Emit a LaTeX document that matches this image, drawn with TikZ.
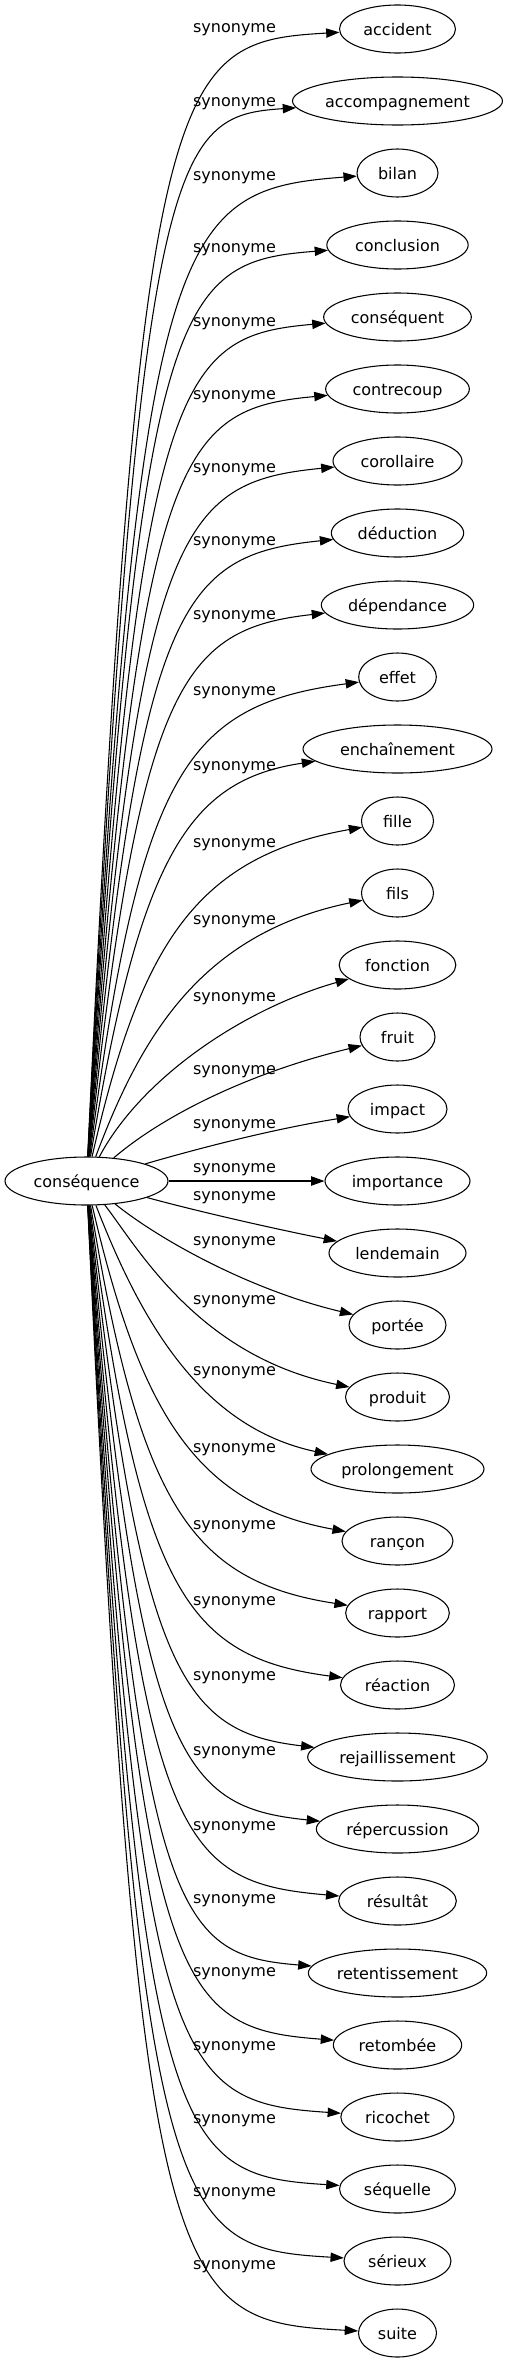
\documentclass[tikz,border=0pt]{standalone}
\usepackage{fontspec}
\setmainfont{DejaVu Sans}
\usetikzlibrary{shapes.geometric, arrows.meta}

\begin{document}
\begin{tikzpicture}[x=0.75pt, y=-0.75pt,
    word/.style={ellipse, draw, line width=0.8pt, inner sep=0pt, minimum height=36pt, minimum width=#1, text height=9pt, text depth=0pt, font=\fontsize{12}{14}\selectfont},
    lbl/.style={inner sep=0pt, font=\fontsize{12}{14}\selectfont},
    syn/.style={-{Triangle[length=10pt, width=7pt]}, line width=0.8pt},
]
\useasboundingbox (0,0) rectangle (508,2363);

% source
\node[word=122.25pt] (cons) at (86.5,1181) {conséquence};

% synonyms
\node[word=87pt]     (accident)        at (397.5,29)   {accident};
\node[word=157.5pt]  (accompagnement)  at (397.5,101)  {accompagnement};
\node[word=60.75pt]  (bilan)           at (397.5,173)  {bilan};
\node[word=106pt]    (conclusion)      at (397.5,245)  {conclusion};
\node[word=110.75pt] (consequent)      at (397.5,317)  {conséquent};
\node[word=107.75pt] (contrecoup)      at (397.5,389)  {contrecoup};
\node[word=96.75pt]  (corollaire)      at (397.5,461)  {corollaire};
\node[word=99.25pt]  (deduction)       at (397.5,533)  {déduction};
\node[word=114.25pt] (dependance)      at (397.5,605)  {dépendance};
\node[word=58.25pt]  (effet)           at (397.5,677)  {effet};
\node[word=141.75pt] (enchainement)    at (397.5,749)  {enchaînement};
\node[word=54pt]     (fille)           at (397.5,821)  {fille};
\node[word=54pt]     (fils)            at (397.5,893)  {fils};
\node[word=87.5pt]   (fonction)        at (397.5,965)  {fonction};
\node[word=56.25pt]  (fruit)           at (397.5,1037) {fruit};
\node[word=74.25pt]  (impact)          at (397.5,1109) {impact};
\node[word=108.75pt] (importance)      at (397.5,1181) {importance};
\node[word=102.75pt] (lendemain)       at (397.5,1253) {lendemain};
\node[word=72.75pt]  (portee)          at (397.5,1325) {portée};
\node[word=78pt]     (produit)         at (397.5,1397) {produit};
\node[word=129.75pt] (prolongement)    at (397.5,1469) {prolongement};
\node[word=83.25pt]  (rancon)          at (397.5,1541) {rançon};
\node[word=77.75pt]  (rapport)         at (397.5,1613) {rapport};
\node[word=85.5pt]   (reaction)        at (397.5,1685) {réaction};
\node[word=134.75pt] (rejaillissement) at (397.5,1757) {rejaillissement};
\node[word=121.75pt] (repercussion)    at (397.5,1829) {répercussion};
\node[word=88.25pt]  (resultat)        at (397.5,1901) {résultât};
\node[word=133.75pt] (retentissement)  at (397.5,1973) {retentissement};
\node[word=96.25pt]  (retombee)        at (397.5,2045) {retombée};
\node[word=85pt]     (ricochet)        at (397.5,2117) {ricochet};
\node[word=87pt]     (sequelle)        at (397.5,2189) {séquelle};
\node[word=80.25pt]  (serieux)         at (397.5,2261) {sérieux};
\node[word=58.5pt]   (suite)           at (397.5,2333) {suite};

% edges above
\draw[syn] (cons) .. controls (140,63) and (171,42) .. (accident) node[lbl] at (234.5,30) {synonyme};
\draw[syn] (cons) .. controls (140,143) and (173,116) .. (accompagnement) node[lbl] at (234.5,104) {synonyme};
\draw[syn] (cons) .. controls (140,223) and (175,190) .. (bilan) node[lbl] at (234.5,178) {synonyme};
\draw[syn] (cons) .. controls (140,295) and (175,262) .. (conclusion) node[lbl] at (234.5,250) {synonyme};
\draw[syn] (cons) .. controls (140,375) and (177,336) .. (consequent) node[lbl] at (234.5,324) {synonyme};
\draw[syn] (cons) .. controls (140,451) and (178,409) .. (contrecoup) node[lbl] at (234.5,397) {synonyme};
\draw[syn] (cons) .. controls (140,527) and (179,482) .. (corollaire) node[lbl] at (234.5,470) {synonyme};
\draw[syn] (cons) .. controls (140,603) and (180,555) .. (deduction) node[lbl] at (234.5,543) {synonyme};
\draw[syn] (cons) .. controls (140,683) and (182,629) .. (dependance) node[lbl] at (234.5,617) {synonyme};
\draw[syn] (cons) .. controls (140,771) and (186,705) .. (effet) node[lbl] at (234.5,693) {synonyme};
\draw[syn] (cons) .. controls (140,855) and (189,780) .. (enchainement) node[lbl] at (234.5,768) {synonyme};
\draw[syn] (cons) .. controls (140,947) and (194,857) .. (fille) node[lbl] at (234.5,845) {synonyme};
\draw[syn] (cons) .. controls (140,1039) and (199,934) .. (fils) node[lbl] at (234.5,922) {synonyme};
\draw[syn] (cons) .. controls (140,1080) and (240,1010) .. (fonction) node[lbl] at (234.5,999) {synonyme};
\draw[syn] (cons) .. controls (170,1110) and (260,1070) .. (fruit) node[lbl] at (234.5,1072) {synonyme};
\draw[syn] (cons) .. controls (210,1145) and (280,1128) .. (impact) node[lbl] at (234.5,1126) {synonyme};
\draw[syn] (cons) -- (importance) node[lbl] at (234.5,1170) {synonyme};

% edges below
\draw[syn] (cons) .. controls (200,1212) and (280,1230) .. (lendemain) node[lbl] at (234.5,1198) {synonyme};
\draw[syn] (cons) .. controls (160,1240) and (250,1290) .. (portee) node[lbl] at (234.5,1243) {synonyme};
\draw[syn] (cons) .. controls (140,1251) and (199,1356) .. (produit) node[lbl] at (234.5,1302) {synonyme};
\draw[syn] (cons) .. controls (140,1319) and (200,1427) .. (prolongement) node[lbl] at (234.5,1373) {synonyme};
\draw[syn] (cons) .. controls (140,1411) and (195,1504) .. (rancon) node[lbl] at (234.5,1450) {synonyme};
\draw[syn] (cons) .. controls (140,1503) and (190,1581) .. (rapport) node[lbl] at (234.5,1527) {synonyme};
\draw[syn] (cons) .. controls (140,1591) and (186,1657) .. (reaction) node[lbl] at (234.5,1603) {synonyme};
\draw[syn] (cons) .. controls (140,1675) and (183,1732) .. (rejaillissement) node[lbl] at (234.5,1678) {synonyme};
\draw[syn] (cons) .. controls (140,1759) and (180,1807) .. (repercussion) node[lbl] at (234.5,1753) {synonyme};
\draw[syn] (cons) .. controls (140,1843) and (177,1882) .. (resultat) node[lbl] at (234.5,1828) {synonyme};
\draw[syn] (cons) .. controls (140,1919) and (176,1955) .. (retentissement) node[lbl] at (234.5,1901) {synonyme};
\draw[syn] (cons) .. controls (140,1995) and (175,2028) .. (retombee) node[lbl] at (234.5,1974) {synonyme};
\draw[syn] (cons) .. controls (140,2075) and (173,2102) .. (ricochet) node[lbl] at (234.5,2048) {synonyme};
\draw[syn] (cons) .. controls (140,2151) and (172,2175) .. (sequelle) node[lbl] at (234.5,2121) {synonyme};
\draw[syn] (cons) .. controls (140,2227) and (171,2248) .. (serieux) node[lbl] at (234.5,2194) {synonyme};
\draw[syn] (cons) .. controls (140,2303) and (170,2321) .. (suite) node[lbl] at (234.5,2267) {synonyme};

\end{tikzpicture}
\end{document}
